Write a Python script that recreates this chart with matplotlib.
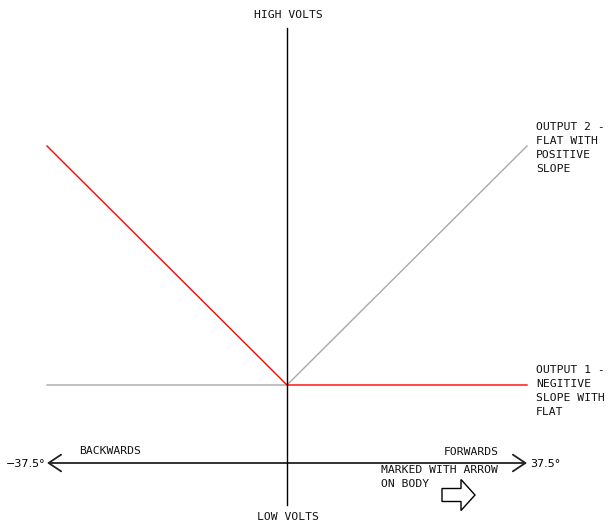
import matplotlib
matplotlib.use("Agg")
import matplotlib.pyplot as plt
from matplotlib.patches import FancyArrow

# Data
angle_limits = [-37.5, 0.0, 37.5]          # degrees
output1_volts = [1.0, 0.0, 0.0]            # negative slope then flat (red)
output2_volts = [0.0, 0.0, 1.0]            # flat then positive slope (grey)
tick_labels = ["\u221237.5\u00b0", "37.5\u00b0"]

W, H = 608, 529
fig = plt.figure(figsize=(W / 100, H / 100), dpi=100)
ax = fig.add_axes([0, 0, 1, 1])
ax.axis("off")

# pixel mapping
x0px, sx = 287.0, 6.4
y0px, sy = 385.0, 239.0
ax.set_xlim((0 - x0px) / sx, (W - x0px) / sx)
ax.set_ylim((y0px - H) / sy, (y0px - 0) / sy)

def P(px, py):
    return ((px - x0px) / sx, (y0px - py) / sy)

font = dict(family="DejaVu Sans Mono", fontsize=8.2, color="#111111")

ax.plot(angle_limits, output2_volts, color="#a8a8a8", lw=1.0, zorder=2)
ax.plot(angle_limits, output1_volts, color="#ff0000", lw=1.0, zorder=3)

# vertical axis
ax.plot([0, 0], [P(0, 28)[1], P(0, 505)[1]], color="black", lw=1.0, zorder=4)

# horizontal angle axis with open arrowheads
ya = P(0, 463)[1]
ax.annotate("", xy=(angle_limits[0], ya), xytext=(angle_limits[-1], ya),
            arrowprops=dict(arrowstyle="<->,head_length=0.9,head_width=0.6",
                            color="#222222", lw=1.3, shrinkA=0, shrinkB=0))

ax.text(*P(288, 15), "HIGH VOLTS", ha="center", va="center", **font)
ax.text(*P(288, 517), "LOW VOLTS", ha="center", va="center", **font)
ax.text(*P(45, 464), tick_labels[0], ha="right", va="center",
        family="DejaVu Sans", fontsize=8)
ax.text(*P(530, 464), tick_labels[1], ha="left", va="center",
        family="DejaVu Sans", fontsize=8)
ax.text(*P(79, 451), "BACKWARDS", ha="left", va="center", **font)
ax.text(*P(499, 452), "FORWARDS", ha="right", va="center", **font)
ax.text(*P(381, 465), "MARKED WITH ARROW\nON BODY", ha="left", va="top",
        linespacing=1.5, **font)
ax.text(*P(536, 122), "OUTPUT 2 -\nFLAT WITH\nPOSITIVE\nSLOPE", ha="left", va="top",
        linespacing=1.5, **font)
ax.text(*P(536, 365), "OUTPUT 1 -\nNEGITIVE\nSLOPE WITH\nFLAT", ha="left", va="top",
        linespacing=1.5, **font)

# hollow arrow marker
sxa, sya = P(442, 495)
exa, _ = P(475, 495)
ax.add_patch(FancyArrow(sxa, sya, exa - sxa, 0, width=13 / sy, head_width=31 / sy,
                        head_length=14 / sx, length_includes_head=True,
                        facecolor="white", edgecolor="black", lw=1.0, zorder=5))

fig.savefig("out.png", dpi=100)
